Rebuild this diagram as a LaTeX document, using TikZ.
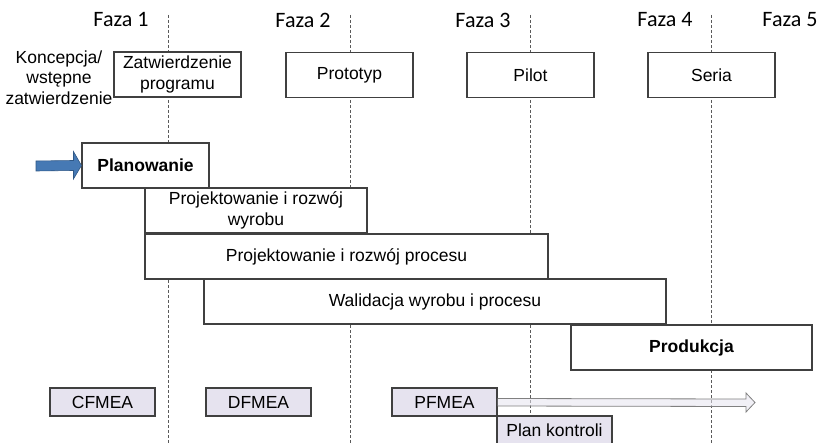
\documentclass[tikz,border=0pt]{standalone}
\usepackage{fontspec}
\setmainfont{Liberation Sans}
\newfontfamily\fazafont{Carlito}
\usetikzlibrary{calc}
\definecolor{boxline}{HTML}{404040}
\definecolor{lav}{HTML}{E6E3EF}
\definecolor{arrblue}{HTML}{4679B4}
\definecolor{arrblueline}{HTML}{2F5785}
\definecolor{dashgrey}{HTML}{5A5A5A}
\tikzset{
  phase/.style={font=\fazafont\fontsize{22}{24}\selectfont, inner sep=0pt},
  stagebox/.style={draw=boxline, line width=1.1pt, fill=white, minimum width=127pt, minimum height=45pt, inner sep=0pt, align=center, font=\fontsize{17.5}{20.5}\selectfont},
  actbox/.style={draw=boxline, line width=1.1pt, fill=white, minimum height=45pt, inner sep=0pt, align=center, font=\fontsize{17.5}{20.5}\selectfont},
  toolbox/.style={draw=boxline, line width=1.1pt, fill=lav, minimum width=105pt, minimum height=28pt, inner sep=0pt, font=\fontsize{17.5}{20}\selectfont},
  phaseline/.style={draw=dashgrey, line width=0.7pt, dash pattern=on 3pt off 2pt},
  plain/.style={inner sep=0pt, align=center, font=\fontsize{17.5}{20.5}\selectfont}
}
\begin{document}
\begin{tikzpicture}[x=1pt,y=-1pt]
\useasboundingbox (0,0) rectangle (821,443);
% phase labels
\node[phase] (f1) at (121,20) {Faza 1};
\node[phase] (f2) at (303,20) {Faza 2};
\node[phase] (f3) at (483,20) {Faza 3};
\node[phase] (f4) at (665,20) {Faza 4};
\node[phase] (f5) at (790,20) {Faza 5};
% dashed phase lines
\coordinate (l1t) at (168,15); \coordinate (l1b) at (168,443);
\coordinate (l2t) at (350,15); \coordinate (l2b) at (350,443);
\coordinate (l3t) at (530,15); \coordinate (l3b) at (530,443);
\coordinate (l4t) at (711,15); \coordinate (l4b) at (711,443);
\draw[phaseline] (l1t) -- (l1b);
\draw[phaseline] (l2t) -- (l2b);
\draw[phaseline] (l3t) -- (l3b);
\draw[phaseline] (l4t) -- (l4b);
% top stage boxes
\node[plain] (konc) at (59,77.5) {Koncepcja/\\wstępne\\zatwierdzenie};
\node[stagebox] (zat) at (177.5,74.5) {Zatwierdzenie\\programu};
\node[stagebox] (proto) at (349.5,75) {Prototyp};
\node[stagebox] (pilot) at (530.5,75) {Pilot};
\node[stagebox] (seria) at (711.5,75) {Seria};
% activity boxes
\node[actbox, minimum width=127pt, font=\bfseries\fontsize{17.5}{20.5}\selectfont] (plan) at (145.5,165.5) {Planowanie};
\node[actbox, minimum width=222pt] (pw) at (256,210.5) {Projektowanie i rozwój\\wyrobu};
\node[actbox, minimum width=403pt] (pp) at (346.5,256.5) {Projektowanie i rozwój procesu};
\node[actbox, minimum width=462pt] (wal) at (435,301.5) {Walidacja wyrobu i procesu};
\node[actbox, minimum width=241pt, font=\bfseries\fontsize{17.5}{20.5}\selectfont] (prod) at (691.5,347.5) {Produkcja};
% tool boxes
\node[toolbox] (cfmea) at (102.5,402) {CFMEA};
\node[toolbox] (dfmea) at (258.5,402) {DFMEA};
\node[toolbox] (pfmea) at (444.5,402) {PFMEA};
\node[toolbox, minimum width=115pt] (plank) at (554.5,430) {Plan kontroli};
% outline arrow from PFMEA
\coordinate (pend) at (755,402.5);
\filldraw[fill=lav, fill opacity=0.55, draw=gray, line width=0.8pt]
  ($(pfmea.east)+(0,-3.5)$) -- ($(pend)+(-9,-3.5)$) -- ($(pend)+(-9,-9.5)$) -- (pend)
  -- ($(pend)+(-9,9.5)$) -- ($(pend)+(-9,4)$) -- ($(pfmea.east)+(0,4)$);
% blue arrow into Planowanie
\coordinate (bstart) at (36,166);
\fill[arrblue, draw=arrblueline, line width=0.6pt]
  ($(bstart)+(0,-5)$) -- ($(plan.west)+(-8,-5)$) -- ($(plan.west)+(-8,-14)$) -- (plan.west)
  -- ($(plan.west)+(-8,13.5)$) -- ($(plan.west)+(-8,5)$) -- ($(bstart)+(0,5)$) -- cycle;
\end{tikzpicture}
\end{document}
